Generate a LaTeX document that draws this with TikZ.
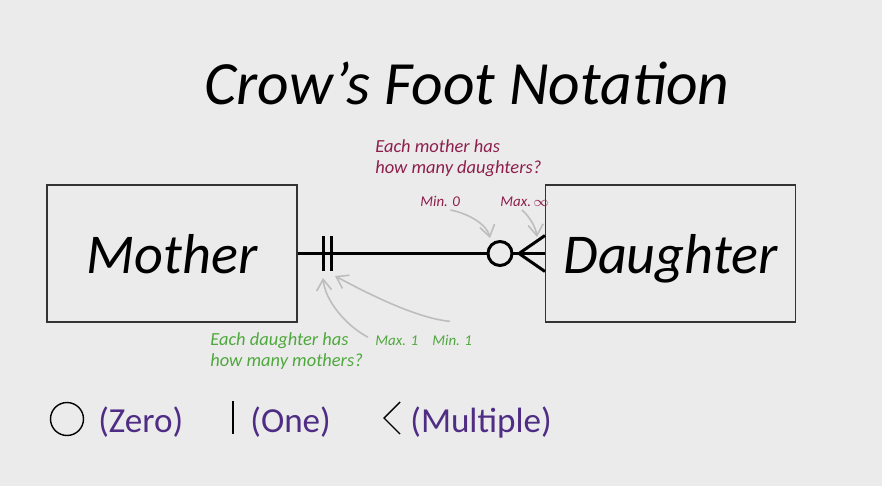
\documentclass[tikz,border=0pt]{standalone}
\usepackage{fontspec}
\setmainfont{Carlito}
\usetikzlibrary{arrows.meta, positioning}
\definecolor{paper}{HTML}{EBEBEB}
\definecolor{askred}{HTML}{8E1F4C}
\definecolor{askgreen}{HTML}{4FA83D}
\definecolor{keypurple}{HTML}{4F2D85}
\definecolor{hint}{HTML}{BDBDBD}
\newcommand{\fsize}[1]{\fontsize{#1}{1.15\dimexpr#1pt\relax}\selectfont}

\begin{document}
\begin{tikzpicture}[
  x=0.02cm, y=-0.02cm,
  heading/.style={font=\fsize{35}\itshape,inner sep=0pt,anchor=base},
  entity/.style={draw=black!80,line width=0.6pt,minimum width=5cm,minimum height=2.74cm,
    font=\fsize{32}\itshape,text depth=0pt},
  rel/.style={line width=1.7pt},
  ring/.style={circle,draw,line width=1.7pt,fill=paper,minimum size=0.48cm,inner sep=0pt},
  askmum/.style={font=\fsize{10.5}\itshape,text=askred,align=left,inner sep=0pt,anchor=north west},
  askkid/.style={font=\fsize{10.5}\itshape,text=askgreen,align=left,inner sep=0pt,anchor=north west},
  tag/.style={font=\fsize{8.5}\itshape,inner sep=0pt,anchor=base west},
  hintarrow/.style={draw=hint,line width=0.9pt,-{Straight Barb[length=2.2mm,width=3mm]}},
  key/.style={font=\fsize{20},text=keypurple,inner sep=0pt,anchor=base west}
]
\fill[paper] (0,0) rectangle (882,486);

\node[heading] (title) at (467,105) {Crow's Foot Notation};

\node[entity] (mother) at (172,253.5) {Mother};
\node[entity] (daughter) at (670.5,253.5) {Daughter};

% relationship line with its ends
\draw[rel] (mother) -- (daughter);
\draw[rel] ([shift={(0.52cm,0.36cm)}]mother.east) -- ++(0,-0.72cm);
\draw[rel] ([shift={(0.68cm,0.36cm)}]mother.east) -- ++(0,-0.72cm);
\coordinate (footapex) at ([xshift=-0.52cm]daughter.west);
\draw[rel] ([yshift=0.36cm]daughter.west) -- (footapex) -- ([yshift=-0.36cm]daughter.west);
\node[ring] (zeroring) at (500,253.5) {};

% questions
\node[askmum] (mumq) at (375,139) {Each mother has\\how many daughters?};
\node[tag,text=askred] (minzero) at (420,207) {Min. 0};
\node[tag,text=askred] (maxmany) at (500,207) {Max.\,$\infty$};
\node[askkid] (kidq) at (210,332) {Each daughter has\\how many mothers?};
\node[tag,text=askgreen] (maxone) at (375,345) {Max. 1};
\node[tag,text=askgreen] (minone) at (432,345) {Min. 1};

\coordinate (ringtip) at (490,238);
\coordinate (foottip) at (537,237);
\coordinate (barone) at (323,278);
\coordinate (bartwo) at (335,276);
\draw[hintarrow] ([xshift=-0.2cm,yshift=-0.05cm]minzero.south east) .. controls (470,214) and (487,225) .. (ringtip);
\draw[hintarrow] ([xshift=0.44cm,yshift=-0.05cm]maxmany.south west) .. controls (530,217) and (536,228) .. (foottip);
\draw[hintarrow] ([xshift=-0.14cm,yshift=0.06cm]maxone.west) .. controls (345,325) and (325,300) .. (barone);
\draw[hintarrow] ([xshift=0.36cm,yshift=0.26cm]minone.north west) .. controls (415,318) and (365,292) .. (bartwo);

% legend
\node[circle,draw,line width=0.8pt,minimum size=0.66cm,inner sep=0pt] (zerosym) at (67,419) {};
\node[key] (zerokey) at (98,432) {(Zero)};
\draw[line width=1.2pt] (233,401) -- (233,434);
\node[key] (onekey) at (250,432) {(One)};
\draw[line width=0.8pt] (400,402) -- (384,418) -- (400,434);
\node[key] (manykey) at (410,432) {(Multiple)};
\end{tikzpicture}
\end{document}
